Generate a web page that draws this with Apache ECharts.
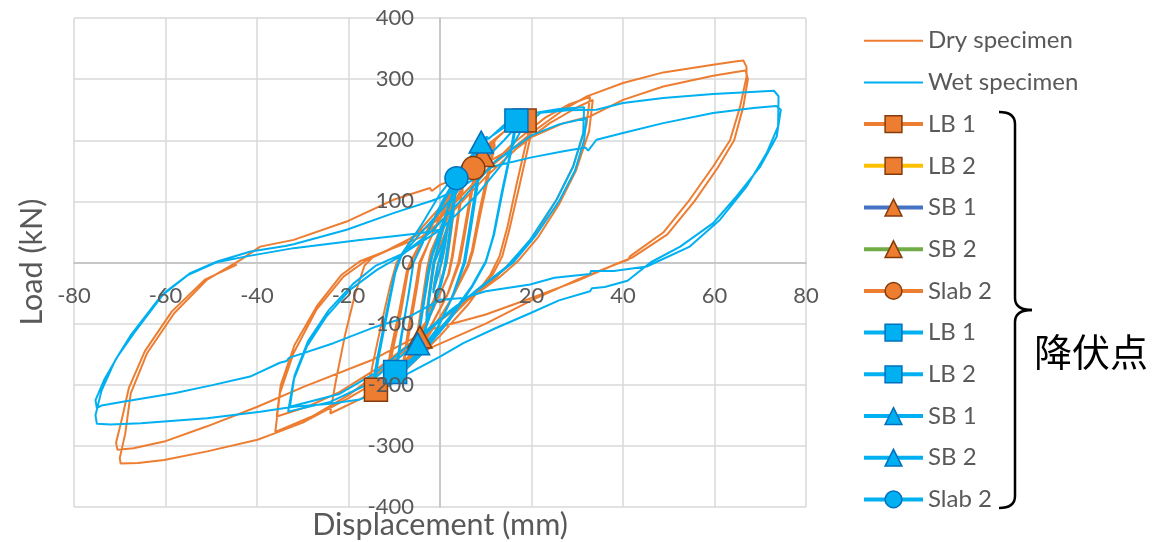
<!DOCTYPE html>
<html>
<head>
<meta charset="utf-8">
<script src="https://cdn.jsdelivr.net/npm/echarts@6/dist/echarts.min.js"></script>
<style>
  html, body { margin: 0; padding: 0; background: #fff; }
  #main { width: 1158px; height: 542px; }
</style>
</head>
<body>
<div id="main"></div>
<script>
// 轴刻度
var xTicks = [-80, -60, -40, -20, 0, 20, 40, 60, 80];
var yTicks = [-400, -300, -200, -100, 0, 100, 200, 300, 400];

// Dry specimen 滞回曲线 [位移 mm, 荷载 kN]
var dryLoopsSmall = [
  [0,0],[0.8,25],[1.5,45],[1.0,22],[0.4,0],[-0.6,-25],[-1.5,-45],[-1.0,-22],[-0.4,0],
  [0.6,25],[1.8,55],[3,85],[2.3,50],[1.3,0],[0,-35],[-1.6,-68],[-3,-88],[-2.3,-52],[-1.3,0],
  [0.2,32],[1.8,60],[3,82],[2.4,48],[1.5,0],[0.2,-32],[-1.4,-62],[-3,-84],[-2.4,-50],[-1.5,0],
  [0,38],[2.4,88],[5,125],[4,82],[2.6,10],[1.8,-20],[-0.5,-60],[-2.8,-98],[-5,-122],[-4,-78],[-2.6,-10],[-1.8,20],
  [0.3,55],[2.6,92],[5,120],[4.1,78],[2.8,10],[2,-18],[-0.3,-56],[-2.6,-92],[-5,-118],[-4.1,-74],[-2.8,-8],[-2,18],
  [0.5,62],[3,105],[5.5,142],[8,165],[6.8,118],[5,40],[4,0],[1.5,-55],[-2,-105],[-5,-145],[-8,-168],[-6.8,-118],[-5,-40],[-4.2,0],
  [-1.8,45],[1,90],[4.5,132],[8,160],[7,115],[5.3,40],[4.3,0],[1.8,-50],[-1.6,-98],[-4.6,-138],[-8,-162],[-7,-112],[-5.3,-38],[-4.5,0],
  [-1.5,48],[2,100],[6,150],[9,180],[12,200],[10.5,150],[8.5,80],[7,20],[6,-5],[2,-65],[-2.5,-120],[-7,-165],[-12,-200],[-10.5,-150],[-8.5,-80],[-7,-15],[-6,5],
  [-3,45],[1,95],[5,142],[8.5,172],[12,193],[10.8,148],[8.8,78],[7.2,18],[6.2,-6],[2.5,-60],[-2,-112],[-6.5,-158],[-12,-193],[-10.8,-145],[-8.8,-75],[-7.2,-12],[-6.2,5]
];
var dryLoops20 = [
  [-3,50],[1,100],[5,145],[10,190],[15,220],[20,235],[18.8,195],[16.8,130],[14.8,60],[13,10],[11,-20],[6,-70],[0,-120],[-6,-165],[-11,-200],[-16,-220],[-14.8,-170],[-12.8,-100],[-10.8,-35],[-9.5,0],
  [-6,40],[0,90],[6,145],[12,200],[17,235],[21,250],[19.6,200],[17.5,130],[15.2,55],[13.6,10],[11.5,-20],[5,-70],[-3,-130],[-10,-180],[-17,-222],[-24,-247],[-22.8,-195],[-20.8,-120],[-18.5,-50],[-16.5,-5],[-14.5,10]
];
var dryLoops33 = [
  [-8,32],[0,72],[8,135],[16,195],[23,237],[28,258],[32.8,271],[32,225],[29.1,157],[25.5,103],[21.1,49],[16,4],[12.4,-23],[5,-65],[-3,-113],[-12,-172],[-20,-217],[-28,-252],[-36,-277],[-35,-214],[-32,-148],[-27,-77],[-21.1,-23],[-16,4],[-11,21],
  [-4,42],[3,85],[10,140],[17,188],[24,228],[30,254],[33.4,266],[32.6,215],[29.7,150],[26,95],[21.5,42],[17,2],[13,-24],[6,-62],[-3,-112],[-13,-170],[-22,-212],[-29,-236],[-35.7,-252],[-34.8,-200],[-31.8,-135],[-26.8,-70],[-21.5,-20],[-17.5,2],[-12,18]
];
var dryLoops67 = [
  [-5,45],[2,88],[10,150],[20,212],[27,250],[32.1,271.7],[40,293.6],[48.8,311],[59.7,323.6],[64.5,329],[66.3,330.6],[67,320],[67,304],[65.6,255],[63.4,200],[59.7,157],[54.6,103],[48.8,49],[41.5,10],[41.2,5],[36,-10],[30,-28],[20,-62],[10,-100],[-2.2,-140],[-10,-178],[-20,-222],[-30,-262],[-36.3,-280],[-39.9,-290],[-50.9,-309],[-60.3,-323],[-66,-328],[-69.8,-329],[-70,-320],
  [-68.8,-280],[-67.6,-214],[-64,-148],[-58.1,-83],[-50.9,-28],[-43.6,4.4],[-39.3,26],[-32,37],[-20.4,67],[-10.2,102.6],[-2.2,121.8],[-1.8,117],[0,127],[5,142],[10,162],
  [20,205],[27,228],[32.8,239],[40,266],[48.8,288],[59.7,305.6],[65,312],[66.8,314],[67.3,300],[66.3,255],[64.3,200],[60.7,155],[55.6,100],[49.7,46],[42,8],[38.6,-2],[30,-30],[20,-58],[10,-85],[-2.2,-110],[-15,-160],[-29.7,-203],[-39.9,-236],[-50.9,-268],[-60.3,-293],[-67,-304],[-70.5,-306.5],[-70.8,-295],
  [-69.5,-255],[-68,-205],[-64.5,-145],[-58.6,-80],[-51.4,-28],[-44.4,-3.6]
];

// Wet specimen 滞回曲线
var wetLoopsSmall = [
  [0,0],[0.7,25],[1.5,50],[1.0,25],[0.3,0],[-0.6,-25],[-1.5,-50],[-1.0,-25],[-0.3,0],
  [0.8,30],[2,70],[3,100],[2.3,60],[1.2,0],[0,-40],[-1.5,-75],[-3,-98],[-2.3,-58],[-1.2,0],
  [0.6,32],[1.9,68],[3,96],[2.4,58],[1.4,0],[0.2,-38],[-1.4,-72],[-3,-95],[-2.4,-55],[-1.4,0],
  [0.3,45],[2,95],[3.6,138],[2.8,90],[1.5,20],[0.8,-15],[-1.2,-65],[-3.2,-110],[-5,-140],[-4,-90],[-2.5,-20],[-1.7,10],
  [0.2,50],[1.9,95],[3.7,132],[3,88],[1.8,22],[1,-12],[-1,-60],[-3,-104],[-5,-135],[-4.1,-86],[-2.7,-18],[-1.9,10],
  [0.8,70],[3.5,120],[6.5,165],[9.5,195],[8.2,140],[6.5,60],[5.2,0],[2.5,-60],[-1,-115],[-5,-155],[-9.8,-183],[-8.6,-125],[-6.8,-50],[-5.8,0],
  [-3,45],[0.5,100],[4,145],[7,172],[9.5,188],[8.4,135],[6.8,58],[5.5,0],[2.8,-55],[-0.8,-110],[-5,-150],[-9.5,-178],[-8.4,-122],[-6.8,-48],[-5.8,0],
  [-2,60],[2,115],[7,170],[10.2,206],[10.6,202],[14,225],[17,238],[15.8,190],[13.8,120],[11.8,45],[10,0],[7,-40],[2,-95],[-4,-150],[-10,-192],[-15,-215],[-13.8,-160],[-11.8,-85],[-10,-20],[-8.7,10],
  [-4,62],[0,112],[5,160],[10,200],[15,226],[16.5,230],[15.5,185],[13.5,115],[11.6,42],[10,2],[7,-38],[2,-90],[-4,-145],[-10,-188],[-14.5,-208],[-13.4,-155],[-11.5,-82],[-9.8,-18],[-8.5,10]
];
var wetLoops30 = [
  [-4,50],[2,100],[8,155],[14,200],[17,225],[21,245],[26,251],[31.5,254],[31.3,212],[29.1,157],[25.5,103],[19.7,37],[14.6,-6.5],[8,-45],[0,-95],[-8,-150],[-16,-200],[-24,-228],[-33.2,-244],[-32,-192],[-29.1,-137.5],[-24.8,-88],[-19.7,-44.7],[-13.8,-12],[-8.7,10],
  [-2,50],[5,105],[12,165],[20,208],[26,226],[32,236],[31.5,200],[29.5,150],[26,100],[21,45],[16,0],[10,-35],[2,-80],[-6,-130],[-14,-180],[-22,-215],[-32.8,-236],[-31.8,-185],[-28.8,-128],[-24.3,-78],[-19,-35],[-14,-5]
];
var wetLoops75 = [
  [-8,15],[0,53],[8,110],[14,165],[18,220],[22,245],[28,249],[34.2,250],[40,261],[48.8,269],[59.7,275.6],[68,279],[73,281],[74,272],[73.9,222.6],[71.4,179],[67,124],[61.2,70],[54.6,26],[45.2,-6.5],[38,-14],[33,-14],[32.8,-19],[25,-25],[19.7,-36],[10,-47],[5.1,-58],[0,-61],[-6.6,-88],[-14,-105],[-23.3,-132],[-33,-156],[-33.5,-161],[-35,-164],[-41.5,-186.6],[-50,-201],[-58.1,-214],[-69,-227.5],[-74,-234],[-75,-238],[-75.3,-225],
  [-73.4,-192],[-70.5,-154],[-66.9,-115.6],[-60.3,-50],[-54.5,-17],[-48.7,1.6],[-41.4,18],[-33.8,27],[-33.4,24],[-32,30],[-20.4,53.5],[-10.2,80.8],[-1.8,101],[-1.5,98],[0,106],[5,125],[11.6,157],[20,172],[27,182],[31.8,188],[32.4,183],[34.2,200.8],[40,212],[48.8,228],[59.7,244.5],[68.5,252.7],[73.5,256],[74.5,250],[74.3,247],[73.6,206],[70,157],[64.8,108],[59.7,64.5],[52.5,26],[46,0],[41,-30],[36,-40],[33.2,-42],[32.8,-47],[26,-62],[19.7,-83],[12,-108],[5.1,-132],[0,-154],[-6.6,-180],[-13,-210],[-17.5,-224],[-24,-231],[-32,-236],[-39.3,-244],[-50.9,-254.7],[-65.4,-263],[-72,-265],[-75,-264],[-75.3,-250],
  [-74,-210],[-71,-160],[-67.5,-118],[-61,-55],[-55,-20],[-49,0],[-42.3,10],[-32,23.5],[-17.5,37],[-4.4,48],[0,53.5]
];

// 降伏点
var yieldNames = ['LB 1', 'LB 2', 'SB 1', 'SB 2', 'Slab 2'];
var dryYieldX = [18.5, -14.0, 9.3, -4.4, 7.3];
var dryYieldY = [232.4, -208, 175, -122, 154.5];
var wetYieldX = [16.7, -9.8, 9.0, -4.9, 3.6];
var wetYieldY = [232.4, -179, 197, -133, 138];

var ORANGE = '#ED7D31', BLUE = '#00B0F0';
var dryLegendLine = [ORANGE, '#FFC000', '#4472C4', '#70AD47', ORANGE];
var yieldShape = ['rect', 'rect', 'triangle', 'triangle', 'circle'];
var yieldSize = [[23, 23], [23, 23], [24, 22], [24, 22], [23, 23]];

var FONT = 'Lato, "Open Sans", sans-serif';
var GREY = '#595959';

var dryPath = [].concat(dryLoopsSmall, dryLoops20, dryLoops33, dryLoops67);
var wetPath = [].concat(wetLoopsSmall, wetLoops30, wetLoops75);

var chartDom = document.getElementById('main');
var myChart = echarts.init(chartDom, null, { renderer: 'canvas' });

var series = [
  {
    name: 'Dry specimen', type: 'line', data: dryPath, symbol: 'none',
    lineStyle: { color: ORANGE, width: 2 }, itemStyle: { color: ORANGE }, z: 2
  },
  {
    name: 'Wet specimen', type: 'line', data: wetPath, symbol: 'none',
    lineStyle: { color: BLUE, width: 2 }, itemStyle: { color: BLUE }, z: 3
  }
];
var legendData = [
  { name: 'Dry specimen', icon: 'path://M0 0H59V2H0Z', itemStyle: { color: ORANGE, borderWidth: 0 } },
  { name: 'Wet specimen', icon: 'path://M0 0H59V2H0Z', itemStyle: { color: BLUE, borderWidth: 0 } }
];

for (var i = 0; i < yieldNames.length; i++) {
  series.push({
    name: yieldNames[i], type: 'line', z: 4,
    data: [[dryYieldX[i], dryYieldY[i]]],
    symbol: yieldShape[i], symbolSize: yieldSize[i],
    lineStyle: { color: dryLegendLine[i], width: 4 },
    itemStyle: { color: ORANGE, borderColor: '#843C0C', borderWidth: 1.5 }
  });
  legendData.push({
    name: yieldNames[i],
    lineStyle: { color: dryLegendLine[i], width: 4 },
    itemStyle: { color: ORANGE, borderColor: '#843C0C', borderWidth: 1.5 }
  });
}
for (var j = 0; j < yieldNames.length; j++) {
  series.push({
    name: yieldNames[j] + ' (wet)', type: 'line', z: 5,
    data: [[wetYieldX[j], wetYieldY[j]]],
    symbol: yieldShape[j], symbolSize: yieldSize[j],
    lineStyle: { color: BLUE, width: 4 },
    itemStyle: { color: BLUE, borderColor: '#0070C0', borderWidth: 1.5 }
  });
  legendData.push({
    name: yieldNames[j] + ' (wet)',
    lineStyle: { color: BLUE, width: 4 },
    itemStyle: { color: BLUE, borderColor: '#0070C0', borderWidth: 1.5 }
  });
}

var labelX = { fontFamily: FONT, fontSize: 22, color: GREY, margin: 22 };
var labelY = { fontFamily: FONT, fontSize: 22, color: GREY, margin: 26 };
var xRange = { type: 'value', min: xTicks[0], max: xTicks[xTicks.length - 1], interval: 20 };
var yRange = { type: 'value', min: yTicks[0], max: yTicks[yTicks.length - 1], interval: 100 };

// 括号
var bk = { stroke: '#000', fill: null, lineWidth: 2.5 };

var option = {
  backgroundColor: '#fff',
  animation: false,
  // grid 0: 绘图区; grid 1: 下边界在 y=0, 放 x 标签; grid 2: 左边界在 x=0, 放 y 标签
  grid: [
    { left: 74, right: 352, top: 18, bottom: 35, containLabel: false, outerBoundsMode: 'none' },
    { left: 74, right: 352, top: 18, height: 244.5, containLabel: false, outerBoundsMode: 'none' },
    { left: 440, right: 352, top: 18, bottom: 35, containLabel: false, outerBoundsMode: 'none' }
  ],
  legend: {
    orient: 'vertical', left: 862, top: 28.7, padding: 0,
    itemWidth: 59, itemHeight: 21, itemGap: 17.7,
    textStyle: { fontFamily: FONT, fontSize: 24, color: GREY },
    formatter: function (name) { return name.replace(' (wet)', ''); },
    data: legendData
  },
  xAxis: [
    Object.assign({}, xRange, {
      gridIndex: 0, position: 'bottom', z: 0,
      axisLine: { onZero: true, lineStyle: { color: '#BFBFBF', width: 1.5 } },
      axisTick: { show: false }, axisLabel: { show: false },
      splitLine: { show: true, lineStyle: { color: '#D9D9D9', width: 1.5 } }
    }),
    Object.assign({}, xRange, {
      gridIndex: 1, position: 'bottom', z: 10,
      axisLine: { show: false, onZero: false }, axisTick: { show: false },
      splitLine: { show: false }, axisLabel: labelX
    }),
    Object.assign({}, xRange, { gridIndex: 2, show: false })
  ],
  yAxis: [
    Object.assign({}, yRange, {
      gridIndex: 0, position: 'left', z: 0,
      axisLine: { show: true, onZero: true, lineStyle: { color: '#BFBFBF', width: 1.5 } },
      axisTick: { show: false }, axisLabel: { show: false },
      splitLine: { show: true, lineStyle: { color: '#D9D9D9', width: 1.5 } }
    }),
    Object.assign({}, yRange, { gridIndex: 1, show: false }),
    Object.assign({}, yRange, {
      gridIndex: 2, position: 'left', z: 10,
      axisLine: { show: false, onZero: false }, axisTick: { show: false },
      splitLine: { show: false }, axisLabel: labelY
    })
  ],
  graphic: [
    {
      type: 'text', x: 32, y: 262, rotation: Math.PI / 2,
      style: { text: 'Load (kN)', fill: GREY, font: '30.5px ' + FONT, align: 'center', verticalAlign: 'middle' }
    },
    {
      type: 'text', x: 440, y: 525,
      style: { text: 'Displacement (mm)', fill: GREY, font: '30.5px ' + FONT, align: 'center', verticalAlign: 'middle' }
    },
    { type: 'bezierCurve', shape: { x1: 999, y1: 112, x2: 1015, y2: 124, cpx1: 1015, cpy1: 112 }, style: bk },
    { type: 'line', shape: { x1: 1015, y1: 124, x2: 1015, y2: 298 }, style: bk },
    { type: 'bezierCurve', shape: { x1: 1015, y1: 298, x2: 1032, y2: 310, cpx1: 1015, cpy1: 310 }, style: bk },
    { type: 'bezierCurve', shape: { x1: 1032, y1: 310, x2: 1015, y2: 322, cpx1: 1015, cpy1: 310 }, style: bk },
    { type: 'line', shape: { x1: 1015, y1: 322, x2: 1015, y2: 496 }, style: bk },
    { type: 'bezierCurve', shape: { x1: 1015, y1: 496, x2: 999, y2: 508, cpx1: 1015, cpy1: 508 }, style: bk },
    {
      type: 'text', x: 1034, y: 352,
      style: { text: '降伏点', fill: '#000', font: '38px "Noto Sans CJK JP"', align: 'left', verticalAlign: 'middle' }
    }
  ],
  series: series
};

option && myChart.setOption(option);
</script>
</body>
</html>
